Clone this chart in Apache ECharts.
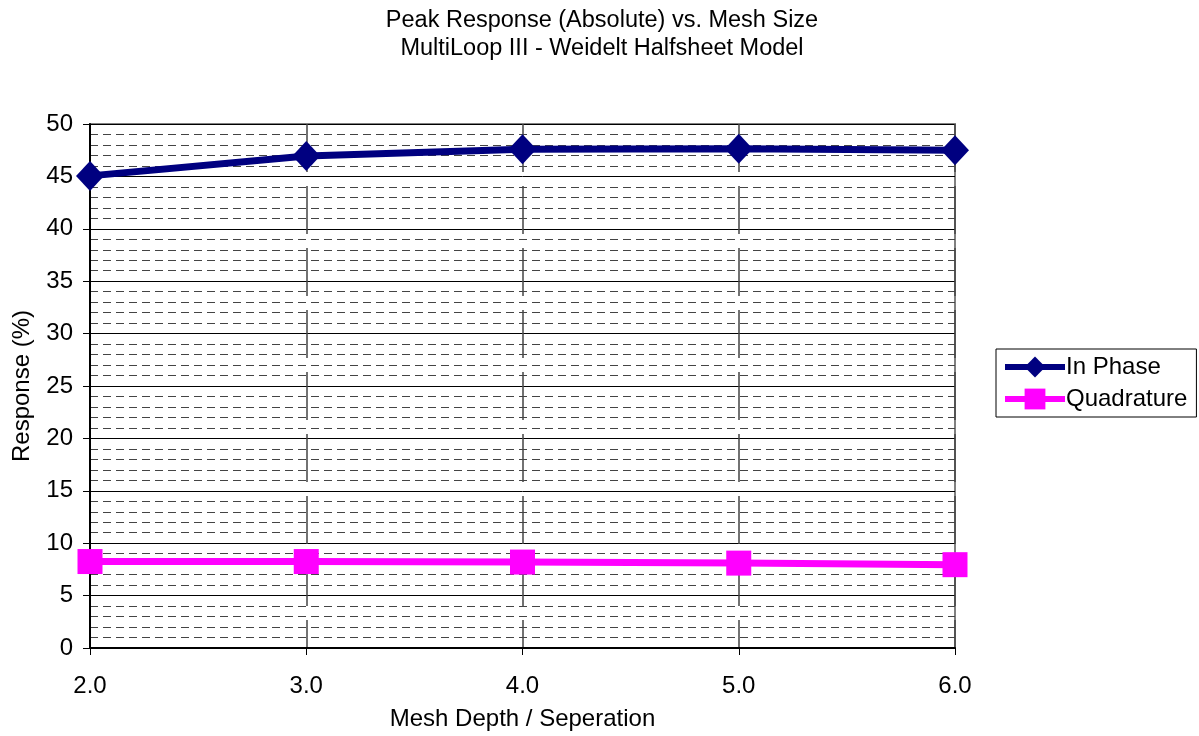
<!DOCTYPE html>
<html>
<head>
<meta charset="utf-8">
<script src="https://cdn.jsdelivr.net/npm/echarts@6/dist/echarts.min.js"></script>
<style>
html,body{margin:0;padding:0;background:#fff;}
#chart{width:1199px;height:736px;}
</style>
</head>
<body>
<div id="chart"></div>
<script>
// 网格深度 / 间距
var meshDepth = [2.0, 3.0, 4.0, 5.0, 6.0];
var inPhase = [45.05, 46.95, 47.6, 47.65, 47.5];
var quadrature = [8.25, 8.25, 8.2, 8.1, 7.95];
var seriesNames = ['In Phase', 'Quadrature'];

var font = 'Liberation Sans, Arial, sans-serif';
var myChart = echarts.init(document.getElementById('chart'));

function pairs(xs, ys) {
    return xs.map(function (x, i) { return [x, ys[i]]; });
}

var option = {
    backgroundColor: '#fff',
    animation: false,
    title: {
        text: 'Peak Response (Absolute) vs. Mesh Size\nMultiLoop III - Weidelt Halfsheet Model',
        left: 597,
        textAlign: 'center',
        top: 2,
        textStyle: {
            fontFamily: font,
            fontSize: 23.5,
            fontWeight: 'normal',
            color: '#000',
            lineHeight: 28
        }
    },
    legend: {
        orient: 'vertical',
        left: 996,
        top: 349,
        padding: [6, 9, 6, 6],
        itemGap: 8,
        itemWidth: 60,
        itemHeight: 26,
        borderColor: '#000',
        borderWidth: 1,
        borderRadius: 0,
        lineStyle: { width: 6 },
        textStyle: { fontFamily: font, fontSize: 24, color: '#000', padding: [0, 0, 0, -4] },
        data: seriesNames
    },
    grid: {
        left: 90,
        right: 244,
        top: 124,
        bottom: 88,
        show: true,
        borderColor: '#808080',
        borderWidth: 2,
        containLabel: false
    },
    xAxis: {
        type: 'value',
        min: 2,
        max: 6,
        interval: 1,
        name: 'Mesh Depth / Seperation',
        nameLocation: 'middle',
        nameGap: 59,
        nameTextStyle: { fontFamily: font, fontSize: 24, color: '#000' },
        axisLine: { show: true, lineStyle: { color: '#000', width: 2 } },
        axisTick: { show: true, length: 7, lineStyle: { color: '#000' } },
        axisLabel: {
            margin: 26,
            fontFamily: font,
            fontSize: 24,
            color: '#000',
            formatter: function (v) { return v.toFixed(1); }
        },
        splitLine: {
            show: true,
            lineStyle: { color: '#444', width: 1.5, type: [48, 14] }
        }
    },
    yAxis: {
        type: 'value',
        min: 0,
        max: 50,
        interval: 5,
        name: 'Response (%)',
        nameLocation: 'middle',
        nameGap: 56,
        nameTextStyle: { fontFamily: font, fontSize: 24, color: '#000' },
        axisLine: { show: true, lineStyle: { color: '#000', width: 2 } },
        axisTick: { show: true, length: 7, lineStyle: { color: '#000' } },
        axisLabel: { margin: 17, fontFamily: font, fontSize: 24, color: '#000' },
        splitLine: { show: true, lineStyle: { color: '#000', width: 1 } },
        minorTick: { show: false, splitNumber: 5 },
        minorSplitLine: {
            show: true,
            lineStyle: { color: '#444', width: 1, type: [8, 5] }
        }
    },
    series: [{
        name: seriesNames[0],
        type: 'line',
        data: pairs(meshDepth, inPhase),
        symbol: 'diamond',
        symbolSize: [28, 30],
        z: 4,
        lineStyle: { color: '#000080', width: 7 },
        itemStyle: { color: '#000080' }
    }, {
        name: seriesNames[1],
        type: 'line',
        data: pairs(meshDepth, quadrature),
        symbol: 'rect',
        symbolSize: [25, 25],
        z: 3,
        lineStyle: { color: '#FF00FF', width: 7 },
        itemStyle: { color: '#FF00FF' }
    }]
};
myChart.setOption(option);
</script>
</body>
</html>
